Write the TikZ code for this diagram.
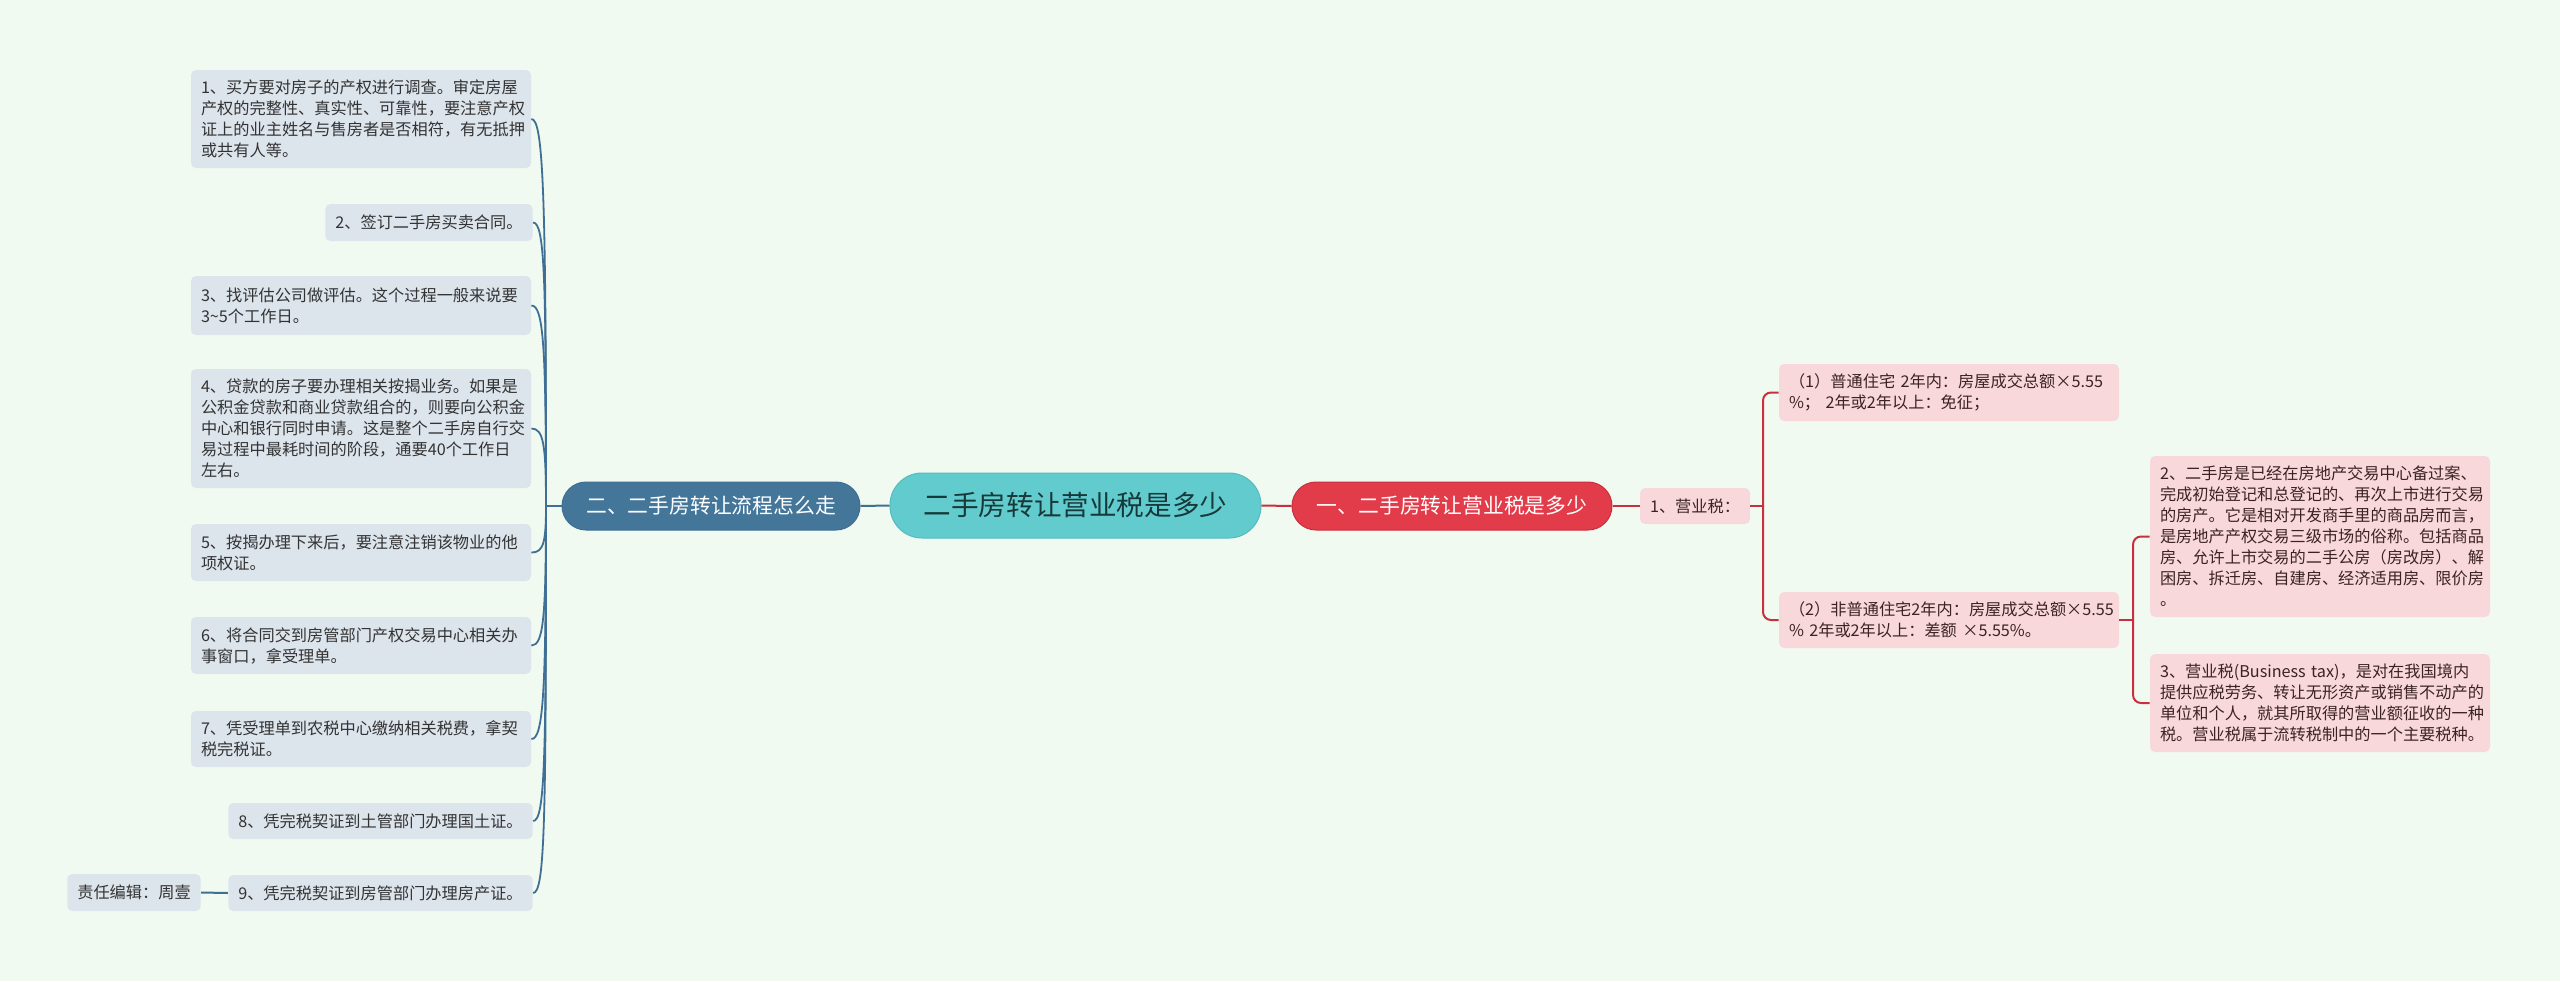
\documentclass[tikz,border=0pt]{standalone}
\usepackage{fontspec}
\setmainfont{Noto Sans CJK SC}
\definecolor{bgc}{HTML}{F0FAF0}
\definecolor{lboxc}{HTML}{DCE4EC}
\definecolor{ltext}{HTML}{333333}
\definecolor{bluen}{HTML}{44769A}
\definecolor{bluel}{HTML}{3F6F94}
\definecolor{tealn}{HTML}{62CBCE}
\definecolor{tealb}{HTML}{55BBBE}
\definecolor{tealt}{HTML}{17393A}
\definecolor{redn}{HTML}{E23B4A}
\definecolor{redl}{HTML}{C8303F}
\definecolor{pinkc}{HTML}{F9D8DC}
\definecolor{rtext}{HTML}{3B2323}
\begin{document}
\begin{tikzpicture}[x=0.5pt,y=-0.5pt,
  lbox/.style={fill=lboxc, rounded corners=2.5pt, inner xsep=5pt, inner ysep=1pt,
    text=ltext, font=\fontsize{8.1pt}{10.5pt}\selectfont, align=left},
  rbox/.style={fill=pinkc, rounded corners=2.5pt, inner xsep=5pt, inner ysep=1pt,
    text=rtext, font=\fontsize{8.1pt}{10.5pt}\selectfont, align=left},
  bconn/.style={draw=bluel, line width=1pt},
  rconn/.style={draw=redl, line width=1pt},
  rcorner/.style={rconn, rounded corners=4pt}]
\useasboundingbox (0,0) rectangle (2560,981);
\fill[bgc] (0,0) rectangle (2560,981);

% central and branch nodes
\node[fill=tealn, draw=tealb, line width=0.5pt, rounded corners=16pt, minimum width=185.5pt, minimum height=32.5pt,
  text=tealt, font=\fontsize{13.8pt}{16pt}\selectfont] (c) at (1075.5,505.5) {二手房转让营业税是多少};
\node[fill=bluen, draw=bluel, line width=0.5pt, rounded corners=12pt, minimum width=149pt, minimum height=24pt,
  text=white, font=\fontsize{10.4pt}{12pt}\selectfont] (two) at (711,506) {二、二手房转让流程怎么走};
\node[fill=redn, draw=redl, line width=0.5pt, rounded corners=12pt, minimum width=160pt, minimum height=24pt,
  text=white, font=\fontsize{10.4pt}{12pt}\selectfont] (one) at (1452,506) {一、二手房转让营业税是多少};

% left boxes
\node[lbox, text width=160pt, minimum height=49pt] (b1) at (361,119)
  {1、买方要对房子的产权进行调查。审定房屋\\产权的完整性、真实性、可靠性，要注意产权\\证上的业主姓名与售房者是否相符，有无抵押\\或共有人等。};
\node[lbox, align=center, minimum width=102pt, minimum height=18.5pt] (b2) at (429,222.5)
  {2、签订二手房买卖合同。};
\node[lbox, text width=160pt, minimum height=29.5pt] (b3) at (361,305.5)
  {3、找评估公司做评估。这个过程一般来说要\\3\textasciitilde5个工作日。};
\node[lbox, text width=160pt, minimum height=59.5pt] (b4) at (361,428.5)
  {4、贷款的房子要办理相关按揭业务。如果是\\公积金贷款和商业贷款组合的，则要向公积金\\中心和银行同时申请。这是整个二手房自行交\\易过程中最耗时间的阶段，通要40个工作日\\左右。};
\node[lbox, text width=160pt, minimum height=28.5pt] (b5) at (361,552.5)
  {5、按揭办理下来后，要注意注销该物业的他\\项权证。};
\node[lbox, text width=160pt, minimum height=28.5pt] (b6) at (361,645.5)
  {6、将合同交到房管部门产权交易中心相关办\\事窗口，拿受理单。};
\node[lbox, text width=160pt, minimum height=28pt] (b7) at (361,739)
  {7、凭受理单到农税中心缴纳相关税费，拿契\\税完税证。};
\node[lbox, align=center, minimum width=150.5pt, minimum height=18pt] (b8) at (380.5,821)
  {8、凭完税契证到土管部门办理国土证。};
\node[lbox, align=center, minimum width=150.5pt, minimum height=18pt] (b9) at (380.5,893)
  {9、凭完税契证到房管部门办理房产证。};
\node[lbox, align=center, minimum width=64pt, minimum height=18.5pt] (ed) at (134,892.5)
  {责任编辑：周壹};

% right boxes
\node[rbox, align=center, minimum width=53pt, minimum height=18pt] (yy) at (1695,506) {1、营业税：};
\node[rbox, text width=160pt, minimum height=28.5pt] (r1) at (1949,392.5)
  {（1）普通住宅 2年内：房屋成交总额×5.55\\\%； 2年或2年以上：免征；};
\node[rbox, text width=160pt, minimum height=28pt] (r2) at (1949,620)
  {（2）非普通住宅2年内：房屋成交总额×5.55\\\% 2年或2年以上：差额 ×5.55\%。};
\node[rbox, text width=160pt, minimum height=80.5pt] (rb2) at (2320,536.5)
  {2、二手房是已经在房地产交易中心备过案、\\完成初始登记和总登记的、再次上市进行交易\\的房产。它是相对开发商手里的商品房而言，\\是房地产产权交易三级市场的俗称。包括商品\\房、允许上市交易的二手公房（房改房）、解\\困房、拆迁房、自建房、经济适用房、限价房\\。};
\node[rbox, text width=160pt, minimum height=49pt] (rb3) at (2320,703)
  {3、营业税(Business tax)，是对在我国境内\\提供应税劳务、转让无形资产或销售不动产的\\单位和个人，就其所取得的营业额征收的一种\\税。营业税属于流转税制中的一个主要税种。};

% connectors center
\draw[bconn] (c.west) -- (two.east);
\draw[rconn] (c.east) -- (one.west);
\draw[rconn] (one.east) -- (yy.west);

% left tree
\coordinate (lt) at (546,506);
\draw[bconn] (two.west) -- (lt);
\draw[bconn, line width=0.9pt] (b1.east) .. controls +(12,0) and +(0,-310) .. (lt);
\draw[bconn, line width=0.9pt] (b2.east) .. controls +(12,0) and +(0,-226) .. (lt);
\draw[bconn, line width=0.9pt] (b3.east) .. controls +(12,0) and +(0,-160) .. (lt);
\draw[bconn, line width=0.9pt] (b4.east) .. controls +(12,0) and +(0,-62) .. (lt);
\draw[bconn, line width=0.9pt] (b5.east) .. controls +(12,0) and +(0,37) .. (lt);
\draw[bconn, line width=0.9pt] (b6.east) .. controls +(12,0) and +(0,112) .. (lt);
\draw[bconn, line width=0.9pt] (b7.east) .. controls +(12,0) and +(0,186) .. (lt);
\draw[bconn, line width=0.9pt] (b8.east) .. controls +(12,0) and +(0,252) .. (lt);
\draw[bconn, line width=0.9pt] (b9.east) .. controls +(12,0) and +(0,310) .. (lt);
\draw[bconn] (b9.west) -- (ed.east);

% right tree
\coordinate (rj1) at (1763,506);
\draw[rconn] (yy.east) -- (rj1);
\draw[rcorner] (rj1) |- (r1.west);
\draw[rcorner] (rj1) |- (r2.west);
\coordinate (rj2) at (2133,620);
\draw[rconn] (r2.east) -- (rj2);
\draw[rcorner] (rj2) |- (rb2.west);
\draw[rcorner] (rj2) |- (rb3.west);
\end{tikzpicture}
\end{document}
